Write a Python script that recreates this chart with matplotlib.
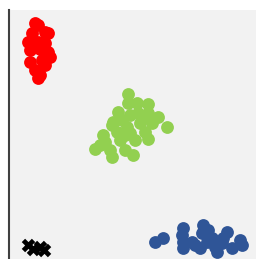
import matplotlib
matplotlib.use("Agg")
import matplotlib.pyplot as plt

# cluster points (x, y)
red_x = [26, 29, 23, 36, 39, 19, 29, 36, 21, 31, 39, 41, 21, 33, 36, 26, 31, 29]
red_y = [236, 234, 226, 227, 226, 217, 217, 216, 209, 210, 207, 202, 197, 199, 194, 189, 184, 181]

green_x = [119, 119, 128, 139, 109, 121, 129, 139, 149, 104, 113, 158, 103, 118, 131, 143,
           94, 108, 121, 136, 96, 111, 139, 86, 91, 101, 116, 103, 124, 126, 133, 116]
green_y = [165, 156, 156, 155, 147, 144, 146, 146, 142, 137, 139, 132, 134, 132, 136, 136,
           124, 127, 126, 127, 117, 119, 120, 110, 114, 109, 109, 102, 104, 119, 141, 124]

blue_x = [146, 154, 174, 173, 174, 174, 194, 199, 193, 186, 191, 198, 206, 208, 218, 214,
          213, 223, 231, 233, 183, 203]
blue_y = [17, 21, 31, 24, 17, 11, 34, 29, 26, 14, 11, 17, 12, 7, 27, 21,
          16, 11, 19, 14, 17, 21]

black_x = [19, 24, 31, 35]
black_y = [14, 10, 12, 9]

fig = plt.figure(figsize=(2.56, 2.59), dpi=100)
ax = fig.add_axes([9 / 256, 0, 247 / 256, 249 / 259])
ax.set_facecolor("#f2f2f2")

ax.scatter(red_x, red_y, s=85, color="#ff0000", linewidths=0)
ax.scatter(green_x, green_y, s=85, color="#92d050", linewidths=0)
ax.scatter(blue_x, blue_y, s=85, color="#2f5597", linewidths=0)
ax.scatter(black_x, black_y, s=95, color="black", marker="X", linewidths=0)

ax.set_xlim(0, 247)
ax.set_ylim(0, 249)
ax.set_xticks([])
ax.set_yticks([])
for side in ["top", "right", "bottom"]:
    ax.spines[side].set_visible(False)
ax.spines["left"].set_color("#404040")
ax.spines["left"].set_linewidth(1.5)

fig.savefig("out.png", dpi=100)
